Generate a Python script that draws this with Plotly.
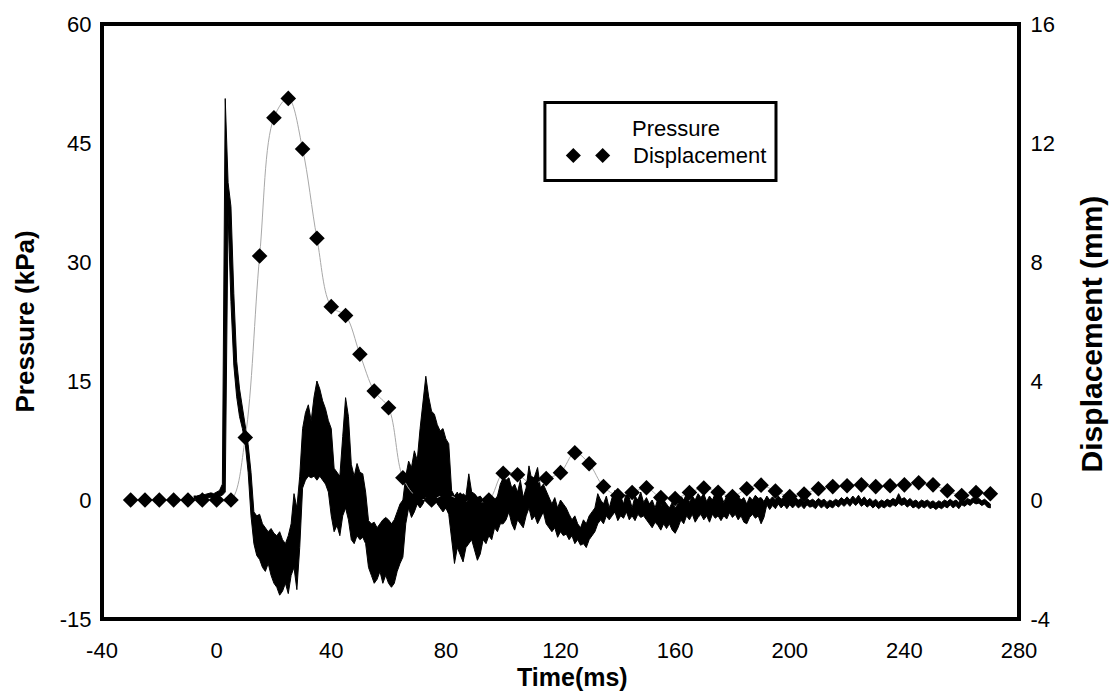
import numpy as np
import plotly.graph_objects as go

# ---------------------------------------------------------------
# Pressure record (kPa): upper / lower envelope of the trace,
# one pair per millisecond starting at t = -8 ms
# ---------------------------------------------------------------
pressure_t0 = -8
pressure_hi = [
    0.5, 0.5, 0.6, 0.6, 0.7, 0.8, 0.9, 0.8, 1.0, 1.2,          # -8 .. 1
    2.0, 50.6, 40.0, 37.0, 26.0, 17.5, 14.0, 11.5, 9.5, 7.0,    # 2 .. 11
    3.5, -1.5, -2.0, -1.8, -3.0, -3.5, -4.0, -3.6, -4.2, -4.5,  # 12 .. 21
    -4.0, -5.0, -5.5, -4.5, -3.0, 0.8, -1.0, 3.0, 9.0, 11.0,    # 22 .. 31
    12.0, 10.0, 13.0, 15.0, 14.0, 12.5, 11.5, 10.0, 9.0, 4.0,   # 32 .. 41
    3.5, 3.0, 8.0, 12.9, 10.5, 4.5, 3.0, 4.6, 3.5, 3.3,         # 42 .. 51
    1.0, -2.6, -3.0, -2.8, -3.5, -3.0, -2.5, -2.2, -2.5, -3.0,  # 52 .. 61
    -2.5, -1.5, -0.5, 0.0, 3.0, 4.9, 4.1, 6.2, 5.0, 9.0,        # 62 .. 71
    12.0, 15.6, 13.0, 11.2, 10.8, 9.5, 8.7, 9.0, 7.7, 7.1,      # 72 .. 81
    1.2, 0.5, 1.0, 0.0, 0.8, 0.5, 3.3, 1.0, 0.8, 0.3,           # 82 .. 91
    0.5, 0.0, 0.3, -0.3, 0.3, 0.0, 0.5, 2.0, 2.8, 2.5,          # 92 .. 101
    2.8, 1.5, 2.0, 1.0, 2.5, 0.3, 1.5, 4.3, 2.5, 3.0,           # 102 .. 111
    4.1, 1.5, 2.0, 1.2, 0.3, -0.5, 0.3, -1.0, 0.0, -0.5,        # 112 .. 121
    -1.0, -1.8, -2.5, -2.0, -3.0, -3.5, -2.5, -3.0, -2.0, -1.5, # 122 .. 131
    -1.0, 0.8, 0.0, -0.5, 0.5, -1.0, 0.3, 1.2, 0.0, 0.5,        # 132 .. 141
    -0.5, 1.0, 0.3, -1.0, 0.5, 0.0, 1.0, -0.3, 0.3, -0.5,       # 142 .. 151
    0.0, -1.0, 0.2, -0.8, 0.0, -0.5, -1.0, -0.3, -1.0, -0.5,    # 152 .. 161
    0.5, 0.0, 0.8, -0.3, 0.5, 0.0, 0.8, 0.3, 0.8, -0.2,         # 162 .. 171
    0.5, 0.0, 0.8, 0.3, 0.6, -0.3, 0.5, 0.0, 0.6, 0.2,          # 172 .. 181
    0.5, 0.0, 0.3, -0.5, 0.4, 0.0, 0.6, 0.2, 0.3, -0.2,         # 182 .. 191
    0.5, 0.0, 0.4, 0.0, 0.5, 0.1, 0.4, 0.0, 0.3, -0.1,          # 192 .. 201
    0.3, 0.0, 0.2, -0.2, 0.2, -0.1, 0.1, -0.2, 0.2, -0.1,       # 202 .. 211
    0.1, -0.3, 0.0, -0.2, 0.1, -0.1, 0.3, 0.0, 0.4, 0.0,        # 212 .. 221
    0.5, 0.1, 0.6, 0.0, 0.4, -0.1, 0.2, -0.2, 0.1, -0.3,        # 222 .. 231
    0.0, -0.2, 0.1, -0.1, 0.2, 0.0, 0.8, 0.1, 0.3, -0.1,        # 232 .. 241
    0.2, -0.2, 0.0, -0.3, 0.0, -0.2, 0.0, -0.3, -0.1, -0.4,     # 242 .. 251
    -0.1, -0.3, 0.0, -0.2, 0.1, -0.2, 0.0, -0.3, 0.1, -0.1,     # 252 .. 261
    0.2, 0.0, 0.3, 0.1, 0.2, -0.1, 0.1, -0.2, -0.5,             # 262 .. 270
]
pressure_lo = [
    0.2, 0.1, 0.2, 0.2, 0.3, 0.3, 0.3, 0.4, 0.4, 0.5,           # -8 .. 1
    0.6, 1.0, 36.0, 25.0, 17.0, 13.0, 10.5, 9.0, 7.0, 3.5,      # 2 .. 11
    -2.0, -5.5, -7.0, -7.5, -8.5, -9.0, -8.0, -9.5, -10.5, -11.0,  # 12 .. 21
    -12.0, -11.5, -10.5, -11.8, -9.5, -8.5, -11.3, -6.0, 1.5, 2.5, # 22 .. 31
    3.0, 2.8, 3.0, 2.5, 3.0, 2.5, 2.0, 1.0, -2.0, -4.0,         # 32 .. 41
    -3.2, -4.5, -2.0, -1.0, -2.5, -5.0, -5.5, -4.5, -5.0, -4.7, # 42 .. 51
    -5.5, -8.5, -9.5, -10.5, -10.0, -9.0, -10.5, -9.5, -10.5, -11.0,  # 52 .. 61
    -10.5, -9.0, -8.0, -7.2, -3.0, -1.0, -2.2, -1.5, -0.5, -1.0,  # 62 .. 71
    -0.5, 0.3, 0.3, 0.0, 0.3, -0.5, -1.0, -1.5, -1.0, -1.8,     # 72 .. 81
    -4.7, -8.0, -6.0, -7.0, -7.8, -6.0, -5.5, -5.0, -6.3, -7.6, # 82 .. 91
    -6.8, -5.0, -5.5, -4.5, -5.0, -3.5, -4.0, -3.0, -3.0, -2.5, # 92 .. 101
    -1.5, -3.0, -3.8, -2.5, -3.0, -3.5, -2.0, -1.0, -2.5, -2.0, # 102 .. 111
    -3.0, -2.2, -1.5, -3.0, -3.5, -4.0, -3.5, -4.7, -4.0, -4.5, # 112 .. 121
    -4.3, -5.0, -4.5, -5.5, -5.0, -5.7, -5.5, -6.0, -5.0, -4.5, # 122 .. 131
    -4.0, -3.0, -2.5, -3.0, -2.0, -2.5, -2.0, -1.5, -2.6, -2.0, # 132 .. 141
    -2.3, -1.5, -2.5, -2.0, -2.6, -1.8, -2.2, -2.0, -2.6, -3.0, # 142 .. 151
    -3.5, -2.8, -3.2, -3.8, -3.0, -3.6, -3.0, -3.8, -4.2, -3.5, # 152 .. 161
    -2.5, -3.0, -2.0, -2.5, -1.8, -2.8, -2.2, -1.8, -2.5, -2.0, # 162 .. 171
    -2.8, -1.8, -2.3, -2.0, -2.6, -2.0, -2.4, -1.6, -2.2, -1.8, # 172 .. 181
    -2.5, -2.0, -2.8, -3.0, -2.2, -1.8, -2.3, -2.0, -3.0, -2.2, # 182 .. 191
    -0.6, -1.2, -0.7, -1.1, -0.5, -1.0, -0.6, -1.1, -0.6, -1.0, # 192 .. 201
    -0.6, -1.0, -0.7, -1.1, -0.6, -0.9, -0.8, -1.1, -0.6, -1.0, # 202 .. 211
    -0.7, -1.1, -0.8, -1.0, -0.6, -0.9, -0.5, -0.8, -0.4, -0.8, # 212 .. 221
    -0.3, -0.7, -0.3, -0.8, -0.5, -0.9, -0.6, -1.0, -0.7, -1.1, # 222 .. 231
    -0.8, -1.0, -0.7, -0.9, -0.6, -0.8, -0.4, -0.7, -0.5, -0.9, # 232 .. 241
    -0.6, -1.0, -0.8, -1.1, -0.8, -1.0, -0.7, -1.1, -0.9, -1.2, # 242 .. 251
    -0.9, -1.1, -0.8, -1.0, -0.6, -1.0, -0.7, -1.1, -0.6, -0.8, # 252 .. 261
    -0.5, -0.7, -0.3, -0.5, -0.4, -0.7, -0.5, -0.9, -1.0,       # 262 .. 270
]

# ---------------------------------------------------------------
# Displacement gauge (mm), read every 5 ms
# ---------------------------------------------------------------
disp_time = [
    -30, -25, -20, -15, -10, -5, 0, 5, 10, 15, 20, 25, 30, 35, 40, 45,
    50, 55, 60, 65, 70, 75, 80, 85, 90, 95, 100, 105, 110, 115, 120,
    125, 130, 135, 140, 145, 150, 155, 160, 165, 170, 175, 180, 185,
    190, 195, 200, 205, 210, 215, 220, 225, 230, 235, 240, 245, 250,
    255, 260, 265, 270,
]
disp_mm = [
    0.0, 0.0, 0.0, 0.0, 0.0, 0.0, 0.0, 0.0, 2.1, 8.2, 12.85, 13.5, 11.8,
    8.8, 6.5, 6.2, 4.9, 3.66, 3.1, 0.75, 0.1, 0.0, 0.2, 0.0, -0.05, 0.0,
    0.9, 0.85, 0.55, 0.72, 0.92, 1.59, 1.22, 0.45, 0.15, 0.25, 0.41,
    0.08, 0.05, 0.25, 0.4, 0.26, 0.12, 0.38, 0.5, 0.3, 0.12, 0.2, 0.38,
    0.45, 0.48, 0.51, 0.45, 0.48, 0.51, 0.58, 0.51, 0.31, 0.15, 0.25, 0.21,
]

x_ticks = [-40, 0, 40, 80, 120, 160, 200, 240, 280]
p_ticks = [-15, 0, 15, 30, 45, 60]
d_ticks = [-4, 0, 4, 8, 12, 16]

FONT = "Liberation Sans, Arial, sans-serif"

# sampling grid of the pressure record (1 ms step)
p_time = np.arange(len(pressure_hi)) + pressure_t0

fig = go.Figure()

# pressure: dense noisy trace drawn as its filled envelope
fig.add_trace(go.Scatter(
    x=np.concatenate([p_time, p_time[::-1]]),
    y=np.concatenate([pressure_hi, pressure_lo[::-1]]),
    mode="lines", fill="toself", fillcolor="black",
    line=dict(color="black", width=1),
    name="Pressure", showlegend=False, hoverinfo="skip",
))

# displacement: thin grey curve with diamond markers on the right axis
fig.add_trace(go.Scatter(
    x=disp_time, y=disp_mm, yaxis="y2",
    mode="lines+markers",
    line=dict(color="#a8a8a8", width=1, shape="spline"),
    marker=dict(symbol="diamond", size=12, color="black"),
    name="Displacement", showlegend=False,
))

axis_font = dict(family=FONT, size=22, color="black")


def labels(vals):
    # plain hyphen for negative numbers
    return [str(v) for v in vals]


fig.update_layout(
    width=1112, height=698,
    margin=dict(l=102, r=93, t=21, b=79),
    paper_bgcolor="white", plot_bgcolor="white",
    showlegend=False,
    xaxis=dict(
        range=[-40, 280], tickvals=x_ticks, ticktext=labels(x_ticks),
        showgrid=False, zeroline=False,
        ticks="outside", ticklen=12, tickcolor="rgba(0,0,0,0)",
        tickfont=axis_font, showline=False,
    ),
    yaxis=dict(
        range=[-15, 60], tickvals=p_ticks, ticktext=labels(p_ticks),
        showgrid=False, zeroline=False,
        ticks="outside", ticklen=5, tickcolor="rgba(0,0,0,0)",
        tickfont=axis_font, showline=False,
    ),
    yaxis2=dict(
        range=[-4, 16], tickvals=d_ticks, ticktext=labels(d_ticks),
        overlaying="y", side="right",
        showgrid=False, zeroline=False,
        ticks="outside", ticklen=6, tickcolor="rgba(0,0,0,0)",
        tickfont=axis_font, showline=False,
    ),
)

# plot frame
fig.add_shape(type="rect", xref="paper", yref="paper", x0=0, x1=1, y0=0, y1=1,
              line=dict(color="black", width=4), layer="above")

# axis titles
fig.add_annotation(text="<b>Time(ms)</b>", xref="paper", yref="paper",
                   x=0.5136, y=-0.098, xanchor="center", yanchor="middle",
                   showarrow=False, font=dict(family=FONT, size=25, color="black"))
fig.add_annotation(text="<b>Pressure (kPa)</b>", xref="paper", yref="paper",
                   x=-0.084, y=0.5, xanchor="center", yanchor="middle",
                   textangle=-90, showarrow=False,
                   font=dict(family=FONT, size=26, color="black"))
fig.add_annotation(text="<b>Displacement (mm)</b>", xref="paper", yref="paper",
                   x=1.0785, y=0.48, xanchor="center", yanchor="middle",
                   textangle=-90, showarrow=False,
                   font=dict(family=FONT, size=30, color="black"))

# legend box
fig.add_shape(type="rect", xref="paper", yref="paper",
              x0=0.483, x1=0.735, y0=0.737, y1=0.868,
              line=dict(color="black", width=3), fillcolor="white", layer="above")
legend_font = dict(family=FONT, size=22, color="black")
fig.add_annotation(text="Pressure", xref="paper", yref="paper",
                   x=0.576, y=0.824, xanchor="left", yanchor="middle",
                   showarrow=False, font=legend_font)
fig.add_annotation(text="Displacement", xref="paper", yref="paper",
                   x=0.577, y=0.779, xanchor="left", yanchor="middle",
                   showarrow=False, font=legend_font)
# legend marker sample: two diamonds
hw, hh = 0.0082, 0.0125
for cx in (0.514, 0.546):
    cy = 0.779
    fig.add_shape(type="path", xref="paper", yref="paper",
                  path=f"M {cx-hw} {cy} L {cx} {cy+hh} L {cx+hw} {cy} L {cx} {cy-hh} Z",
                  fillcolor="black", line=dict(color="black", width=0), layer="above")

fig.write_html("out.html")
